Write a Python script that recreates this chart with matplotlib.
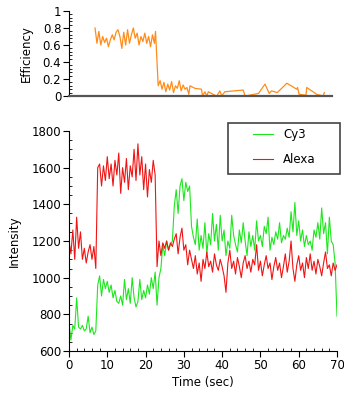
import numpy as np
import matplotlib
matplotlib.use("Agg")
import matplotlib.pyplot as plt
from matplotlib.ticker import MultipleLocator, FuncFormatter
from matplotlib.patches import Rectangle

# Intensity traces, one frame every 0.5 s from 0 to 70 s
time = np.arange(0, 70.5, 0.5)

cy3 = [750, 660, 740, 720, 890, 730, 720, 740, 710, 720,
       790, 700, 730, 690, 710, 960, 1010, 900, 990, 940,
       980, 920, 960, 890, 930, 870, 860, 900, 850, 990,
       880, 940, 860, 1000, 890, 840, 870, 990, 880, 930,
       890, 960, 910, 1000, 940, 1030, 850, 1000, 1050, 1180,
       1120, 1200, 1150, 1180, 1200, 1390, 1480, 1350, 1500, 1540,
       1420, 1520, 1470, 1500, 1280, 1220, 1180, 1320, 1150, 1230,
       1160, 1300, 1130, 1240, 1180, 1350, 1200, 1290, 1150, 1340,
       1200, 1260, 1120, 1200, 1160, 1340, 1230, 1180, 1140, 1260,
       1190, 1300, 1200, 1120, 1250, 1170, 1230, 1150, 1310, 1200,
       1230, 1170, 1280, 1240, 1330, 1150, 1220, 1180, 1250, 1210,
       1300, 1190, 1230, 1210, 1270, 1220, 1360, 1250, 1410, 1230,
       1310, 1200, 1260, 1170, 1230, 1180, 1200, 1150, 1260, 1220,
       1300, 1210, 1380, 1240, 1300, 1130, 1330, 1200, 1180, 1080,
       790]

alexa = [1200, 1130, 1260, 1100, 1330, 1160, 1250, 1100, 1160, 1080,
         1140, 1180, 1100, 1170, 1050, 1600, 1620, 1500, 1610, 1530,
         1660, 1540, 1620, 1500, 1640, 1560, 1680, 1460, 1600, 1520,
         1650, 1480, 1610, 1550, 1700, 1530, 1730, 1560, 1660, 1480,
         1620, 1440, 1590, 1520, 1640, 1560, 1060, 1200, 1120, 1190,
         1160, 1200, 1150, 1190, 1170, 1210, 1240, 1130, 1220, 1270,
         1150, 1180, 1070, 1150, 1100, 1050, 1120, 1020, 1080, 980,
         1100, 1050, 1140, 1060, 1090, 1030, 1130, 1070, 1040, 1100,
         1060, 1010, 920, 1080, 1150, 1050, 1090, 1020, 1110, 1060,
         1000, 1080, 1120, 1050, 1090, 1030, 1100, 1070, 1180, 1040,
         1090, 1010, 1070, 1120, 1050, 1080, 990, 1060, 1110, 1040,
         1080, 1000, 1060, 1130, 1030, 1090, 1200, 1050, 980, 1070,
         1120, 1040, 1080, 1000, 1110, 1050, 1130, 1040, 1090, 1020,
         1100, 1060, 1010, 1080, 1140, 1050, 1070, 1010, 1080, 1040,
         1070]

# FRET efficiency (only where it could be computed)
eff_time = [6.8, 7.3, 7.8, 8.3, 8.8, 9.3, 9.8, 10.3, 10.8, 11.3,
            11.8, 12.3, 12.8, 13.3, 13.8, 14.3, 14.8, 15.3, 15.8, 16.3,
            16.8, 17.3, 17.8, 18.3, 18.8, 19.3, 19.8, 20.3, 20.8, 21.3,
            21.8, 22.3, 22.6, 23.3, 23.8, 24.3, 24.8, 25.3, 25.8, 26.3,
            26.8, 27.3, 27.8, 28.3, 28.8, 29.3, 29.8, 30.3, 30.8, 31.3,
            31.6, 32.9, 34.6, 34.9, 35.5, 36.0, 36.4, 37.6, 38.6, 39.4,
            39.9, 40.7, 45.5, 46.0, 49.5, 51.2, 52.3, 52.9, 54.4, 56.9,
            59.5, 59.7, 60.1, 61.9, 62.1, 63.4, 64.7, 66.4, 66.7]
eff = [0.80, 0.62, 0.76, 0.60, 0.70, 0.63, 0.68, 0.58, 0.66, 0.72,
       0.66, 0.75, 0.78, 0.70, 0.56, 0.75, 0.60, 0.78, 0.62, 0.72,
       0.80, 0.68, 0.74, 0.60, 0.70, 0.64, 0.74, 0.62, 0.70, 0.58,
       0.72, 0.62, 0.76, 0.12, 0.18, 0.08, 0.16, 0.05, 0.14, 0.07,
       0.17, 0.04, 0.12, 0.09, 0.18, 0.06, 0.13, 0.08, 0.10, 0.02,
       0.12, 0.09, 0.08, 0.00, 0.05, 0.00, 0.05, 0.02, 0.00, 0.06,
       0.00, 0.05, 0.07, 0.00, 0.03, 0.14, 0.03, 0.06, 0.04, 0.15,
       0.08, 0.10, 0.02, 0.01, 0.10, 0.06, 0.02, 0.00, 0.04]

plt.rcParams['font.family'] = 'DejaVu Sans'
plt.rcParams['font.size'] = 8.5

fig = plt.figure(figsize=(3.44, 3.93), dpi=100)
W, H = 344, 393

# top panel: efficiency
ax1 = fig.add_axes([69 / W, 1 - 96 / H, 263 / W, 85 / H])
ax1.plot(eff_time, eff, color='#ff8c1a', lw=0.9)
ax1.set_xlim(0, 68.7)
ax1.set_ylim(0, 1)
ax1.yaxis.set_major_locator(MultipleLocator(0.2))
ax1.yaxis.set_minor_locator(MultipleLocator(0.04))
ax1.yaxis.set_major_formatter(FuncFormatter(lambda v, p: '%g' % round(v, 2)))
ax1.set_xticks([])
ax1.spines['top'].set_visible(False)
ax1.spines['right'].set_visible(False)
ax1.spines['bottom'].set_color('#555555')
ax1.spines['bottom'].set_linewidth(1.6)
ax1.set_ylabel('Efficiency')
ax1.yaxis.set_label_coords(-0.137, 0.5)

# bottom panel: intensities
ax2 = fig.add_axes([69 / W, 1 - 351 / H, 268 / W, 220 / H])
ax2.plot(time, cy3, color='#1ee61e', lw=0.8, label='Cy3')
ax2.plot(time, alexa, color='#f01414', lw=0.8, label='Alexa')
ax2.set_xlim(0, 70)
ax2.set_ylim(600, 1800)
ax2.xaxis.set_major_locator(MultipleLocator(10))
ax2.xaxis.set_minor_locator(MultipleLocator(2))
ax2.yaxis.set_major_locator(MultipleLocator(200))
ax2.yaxis.set_minor_locator(MultipleLocator(50))
ax2.spines['top'].set_visible(False)
ax2.spines['right'].set_visible(False)
ax2.set_xlabel('Time (sec)', labelpad=3)
ax2.set_ylabel('Intensity')
ax2.yaxis.set_label_coords(-0.179, 0.5)

for ax in (ax1, ax2):
    ax.tick_params(which='major', direction='out', length=4, width=0.8, pad=1.5)
    ax.tick_params(which='minor', direction='in', length=2.5, width=0.6)

# legend box drawn separately so the padding matches
fig.add_artist(Rectangle((228 / W, 1 - 174 / H), 112 / W, 51 / H,
                         transform=fig.transFigure, fill=False,
                         edgecolor='#444444', lw=1.2))
ax2.legend(loc='upper left', bbox_to_anchor=(253 / W, 1 - 128 / H),
           bbox_transform=fig.transFigure, frameon=False, borderpad=0,
           borderaxespad=0, handlelength=1.7, handletextpad=0.85,
           labelspacing=1.05)

fig.savefig('out.png', dpi=100)
